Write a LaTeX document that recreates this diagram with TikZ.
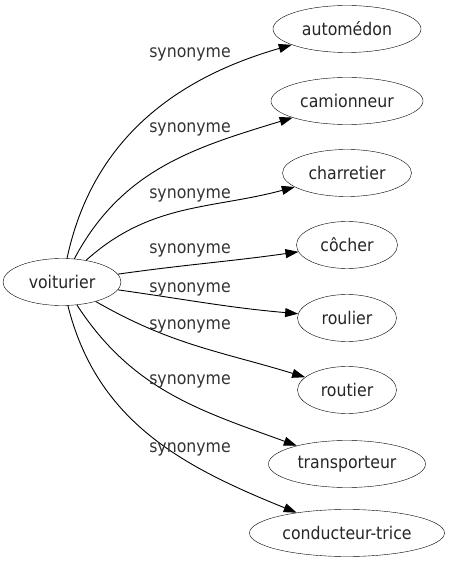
\documentclass[tikz,border=0pt]{standalone}
\usepackage{fontspec}
\setmainfont{DejaVu Sans Condensed}
\usetikzlibrary{shapes.geometric, arrows.meta}

\begin{document}
\begin{tikzpicture}[x=1pt, y=1pt,
        word/.style={ellipse, draw=black, fill=white, inner sep=0pt, minimum height=47pt, text=black!85, font=\fontsize{17.5}{20}\selectfont},
        rel/.style={font=\fontsize{17.5}{20}\selectfont, text=black!80},
        syn/.style={-{Triangle[length=13pt, width=9pt]}, line width=0.9pt}]
            \useasboundingbox (0, 0) rectangle (452, 563);

            \node[word, minimum width=118pt] (voit) at (62, 281) {voiturier};
            \node[word, minimum width=148pt] (auto) at (347, 534) {automédon};
            \node[word, minimum width=152pt] (cami) at (347, 462) {camionneur};
            \node[word, minimum width=129pt] (char) at (347, 390) {charretier};
            \node[word, minimum width=101pt] (coch) at (347, 318) {côcher};
            \node[word, minimum width=99pt] (roul) at (347, 245) {roulier};
            \node[word, minimum width=99pt] (rout) at (347, 173) {routier};
            \node[word, minimum width=157pt] (tran) at (347, 99) {transporteur};
            \node[word, minimum width=195pt] (cond) at (347, 30) {conducteur-trice};

            \draw[syn] (voit) to[out=78, in=196] (auto);
            \draw[syn] (voit) to[out=62, in=197] (cami);
            \draw[syn] (voit) to[out=42, in=195] (char);
            \draw[syn] (voit) to[out=8, in=188] (coch);
            \draw[syn] (voit) to[out=-8, in=175] (roul);
            \draw[syn] (voit) to[out=-30, in=163] (rout);
            \draw[syn] (voit) to[out=-57, in=160] (tran);
            \draw[syn] (voit) to[out=-76, in=158] (cond);

            \node[rel] (l1) at (190, 509) {synonyme};
            \node[rel] (l2) at (190, 434) {synonyme};
            \node[rel] (l3) at (190, 368) {synonyme};
            \node[rel] (l4) at (190, 313) {synonyme};
            \node[rel] (l5) at (190, 274) {synonyme};
            \node[rel] (l6) at (190, 237) {synonyme};
            \node[rel] (l7) at (190, 182) {synonyme};
            \node[rel] (l8) at (190, 114) {synonyme};
        \end{tikzpicture}
\end{document}
